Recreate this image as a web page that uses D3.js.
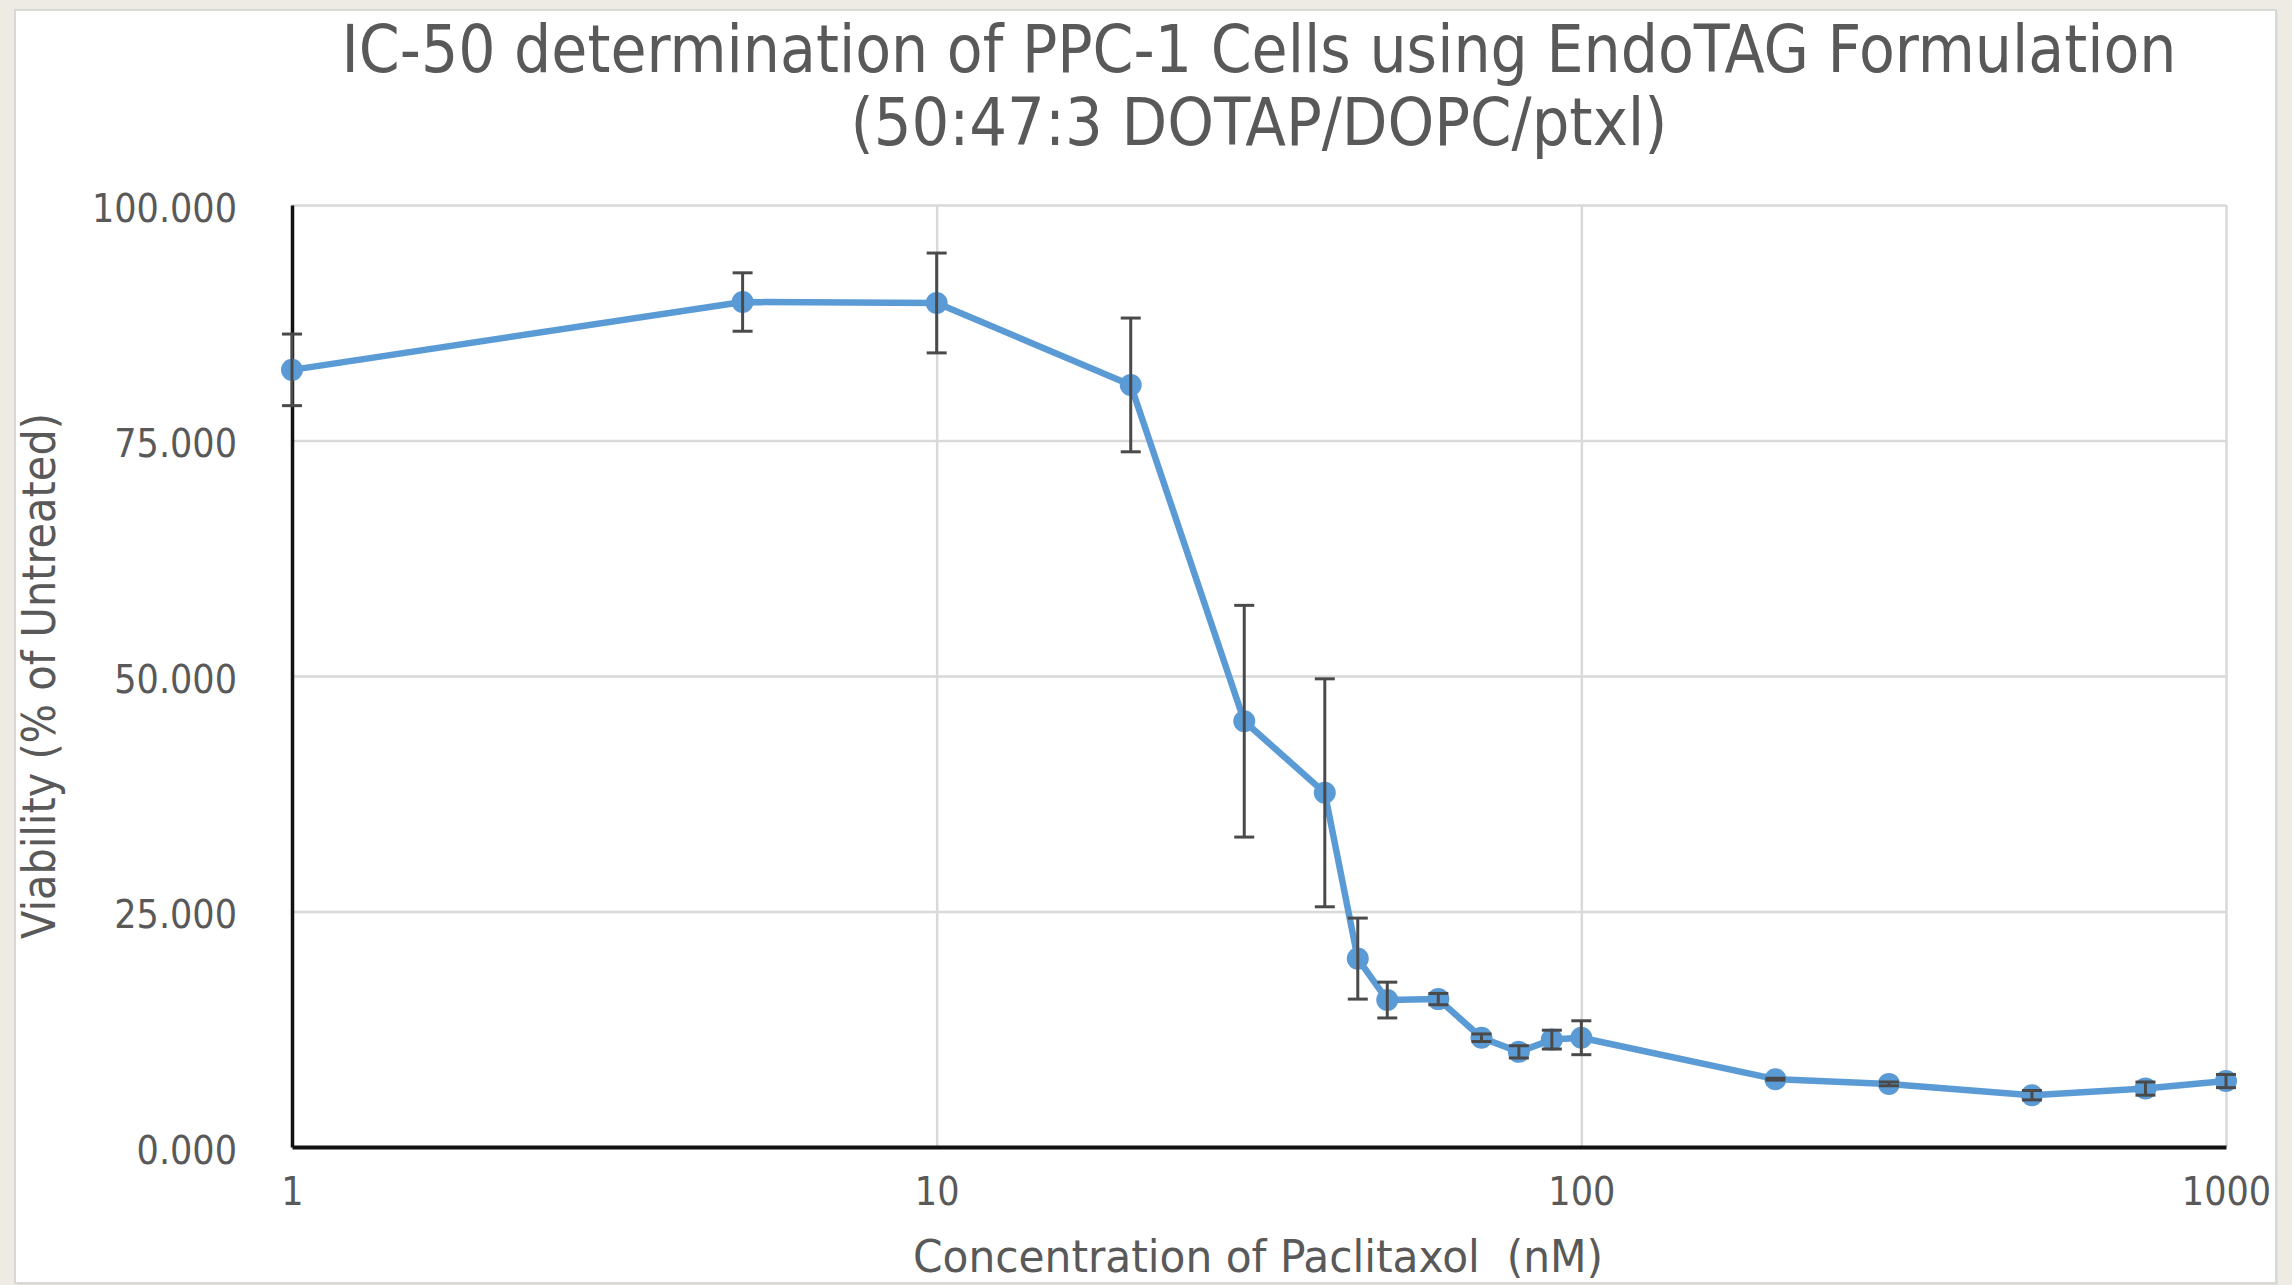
<!DOCTYPE html>
<html>
<head>
<meta charset="utf-8">
<script src="https://cdn.jsdelivr.net/npm/d3@7"></script>
<style>
  html, body { margin: 0; padding: 0; background: #eeebe4; }
  svg { display: block; }
</style>
</head>
<body>
<svg id="chart" width="2292" height="1285"></svg>
<script>
// ---- Data ----
const concentrations = [1, 5, 10, 20, 30, 40, 45, 50, 60, 70, 80, 90, 100, 200, 300, 500, 750, 1000];
const viability      = [82.5, 89.7, 89.6, 80.9, 45.2, 37.6, 20.0, 15.6, 15.7, 11.6, 10.1, 11.4, 11.6, 7.2, 6.7, 5.5, 6.2, 7.0];
const errorBars      = [3.8, 3.1, 5.3, 7.1, 12.3, 12.1, 4.3, 1.9, 0.6, 0.4, 0.65, 1.0, 1.8, 0.1, 0.2, 0.5, 0.7, 0.7];
const yTickValues    = [0, 25, 50, 75, 100];
const xTickValues    = [1, 10, 100, 1000];
const titleLines     = ["IC-50 determination of PPC-1 Cells using EndoTAG Formulation", "(50:47:3 DOTAP/DOPC/ptxl)"];
const xAxisTitle     = "Concentration of Paclitaxol  (nM)";
const yAxisTitle     = "Viability (% of Untreated)";

// ---- Layout ----
const W = 2292, H = 1285;
const plot = { left: 292, right: 2226, top: 205, bottom: 1147 };
const textColor = "#595959";
const fontFam = "'DejaVu Sans Condensed', 'DejaVu Sans', sans-serif";

const svg = d3.select("#chart");

// page background + white panel
svg.append("rect").attr("x", 0).attr("y", 0).attr("width", W).attr("height", H).attr("fill", "#eeebe4");
svg.append("rect").attr("x", 17).attr("y", 12).attr("width", 2261).attr("height", 1273)
   .attr("fill", "#d9d7d2").attr("opacity", 0.6);
svg.append("rect").attr("x", 15).attr("y", 10).attr("width", 2261).attr("height", 1273)
   .attr("fill", "#ffffff").attr("stroke", "#d8d8d8").attr("stroke-width", 2);

const x = d3.scaleLog().domain([1, 1000]).range([plot.left, plot.right]);
const y = d3.scaleLinear().domain([0, 100]).range([plot.bottom, plot.top]);

// ---- Gridlines ----
const gridY = svg.append("g").attr("transform", `translate(${plot.left},0)`)
  .call(d3.axisLeft(y).tickValues(yTickValues.filter(v => v > 0))
        .tickSize(-(plot.right - plot.left)).tickFormat(""));
gridY.select(".domain").remove();
gridY.selectAll("line").attr("stroke", "#d9d9d9").attr("stroke-width", 2.5);

const gridX = svg.append("g").attr("transform", `translate(0,${plot.bottom})`)
  .call(d3.axisBottom(x).tickValues(xTickValues.filter(v => v > 1))
        .tickSize(-(plot.bottom - plot.top)).tickFormat(""));
gridX.select(".domain").remove();
gridX.selectAll("line").attr("stroke", "#d9d9d9").attr("stroke-width", 2.5);

// ---- Axes ----
const yAxis = svg.append("g").attr("transform", `translate(${plot.left},0)`)
  .call(d3.axisLeft(y).tickValues(yTickValues).tickFormat(d3.format(".3f")).tickSize(0).tickPadding(55));
yAxis.select(".domain").attr("stroke", "#111").attr("stroke-width", 3.5);
yAxis.selectAll("text").attr("font-family", fontFam).attr("font-size", 39)
  .attr("fill", textColor).attr("dy", "0.42em");

const xAxis = svg.append("g").attr("transform", `translate(0,${plot.bottom})`)
  .call(d3.axisBottom(x).tickValues(xTickValues).tickFormat(d3.format("d")).tickSize(0));
xAxis.select(".domain").attr("stroke", "#111").attr("stroke-width", 4);
xAxis.selectAll("text").attr("font-family", fontFam).attr("font-size", 39)
  .attr("fill", textColor).attr("y", 44).attr("dy", "0.36em");

// ---- Series ----
const pts = concentrations.map((c, i) => ({ c, v: viability[i], e: errorBars[i] }));

const line = d3.line().x(d => x(d.c)).y(d => y(d.v));
svg.append("path").datum(pts).attr("d", line)
  .attr("fill", "none").attr("stroke", "#5b9bd5").attr("stroke-width", 6.5)
  .attr("stroke-linejoin", "round");

svg.append("g").selectAll("circle").data(pts).join("circle")
  .attr("cx", d => x(d.c)).attr("cy", d => y(d.v)).attr("r", 11)
  .attr("fill", "#5b9bd5");

// error bars on top
const eb = svg.append("g").attr("stroke", "#4a4a4a").attr("stroke-width", 3);
const capHalf = 10;
eb.selectAll("line.v").data(pts).join("line").attr("class", "v")
  .attr("x1", d => x(d.c)).attr("x2", d => x(d.c))
  .attr("y1", d => y(d.v + d.e)).attr("y2", d => y(d.v - d.e));
eb.selectAll("line.t").data(pts).join("line").attr("class", "t")
  .attr("x1", d => x(d.c) - capHalf).attr("x2", d => x(d.c) + capHalf)
  .attr("y1", d => y(d.v + d.e)).attr("y2", d => y(d.v + d.e));
eb.selectAll("line.b").data(pts).join("line").attr("class", "b")
  .attr("x1", d => x(d.c) - capHalf).attr("x2", d => x(d.c) + capHalf)
  .attr("y1", d => y(d.v - d.e)).attr("y2", d => y(d.v - d.e));

// ---- Titles ----
const titleSpec = [
  { text: titleLines[0], y: 72, len: 1835 },
  { text: titleLines[1], y: 145, len: 817 }
];
svg.append("g").selectAll("text").data(titleSpec).join("text")
  .attr("x", (plot.left + plot.right) / 2).attr("y", d => d.y)
  .attr("text-anchor", "middle").attr("font-family", fontFam).attr("font-size", 66)
  .attr("fill", textColor)
  .attr("textLength", d => d.len).attr("lengthAdjust", "spacingAndGlyphs")
  .text(d => d.text);

svg.append("text")
  .attr("x", 1258).attr("y", 1272)
  .attr("text-anchor", "middle").attr("font-family", fontFam).attr("font-size", 44)
  .attr("fill", textColor)
  .attr("textLength", 690).attr("lengthAdjust", "spacingAndGlyphs")
  .attr("xml:space", "preserve").style("white-space", "pre")
  .text(xAxisTitle);

svg.append("text")
  .attr("transform", `translate(55,${(plot.top + plot.bottom) / 2}) rotate(-90)`)
  .attr("text-anchor", "middle").attr("font-family", fontFam).attr("font-size", 46)
  .attr("fill", textColor)
  .attr("textLength", 526).attr("lengthAdjust", "spacingAndGlyphs")
  .text(yAxisTitle);
</script>
</body>
</html>
